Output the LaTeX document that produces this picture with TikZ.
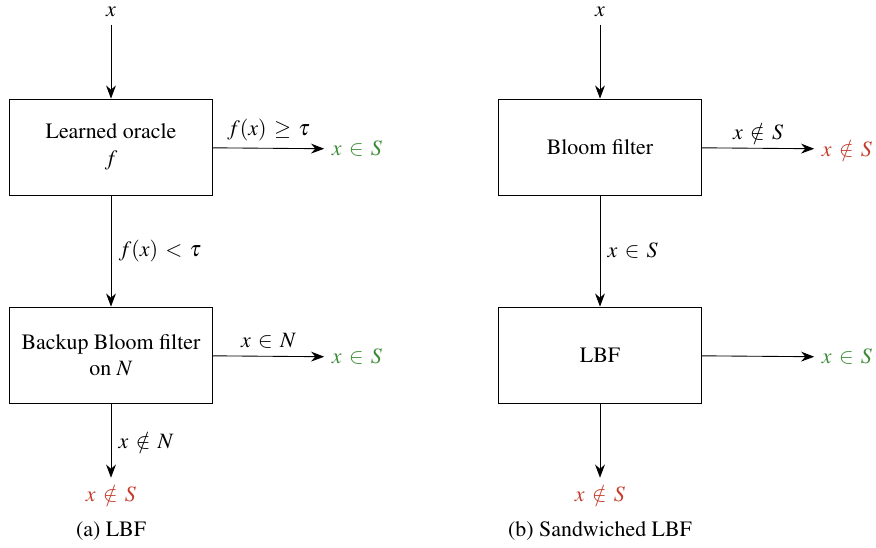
\documentclass[tikz,border=0pt]{standalone}
\usepackage{amsmath}
\usepackage[T1]{fontenc}
\usepackage{mathptmx}
\usepackage{tikz}
\usetikzlibrary{arrows.meta}
\usepackage{xcolor}
\definecolor{posgreen}{RGB}{58,138,52}
\definecolor{negred}{RGB}{196,58,42}
\thickmuskip=6mu plus 2mu

\begin{document}
\begin{tikzpicture}[x=0.4566pt, y=-0.4566pt,
    block/.style={draw, minimum width=92.7pt, minimum height=43.8pt, align=center, inner sep=2pt},
    flow/.style={-{Stealth[length=6pt, width=4.5pt]}},
    yes/.style={text=posgreen},
    no/.style={text=negred}]
    \useasboundingbox (0,0) rectangle (876,548);
    % LBF
    \node (inA) at (111,12) {$x$};
    \node[block] (oracle) at (111,147) {Learned oracle\\ $f$};
    \node[block] (backup) at (111,355) {Backup Bloom filter\\ on $N$};
    \node[yes] (posA1) at (357,149) {$x \in S$};
    \node[yes] (posA2) at (357,357) {$x \in S$};
    \node[no] (negA) at (111,494) {$x \notin S$};
    \draw[flow] (inA) -- (oracle);
    \draw[flow] (oracle) -- node[above] {$f(x) \geq \tau$} (posA1);
    \draw[flow] (oracle) -- node[right] {$f(x) < \tau$} (backup);
    \draw[flow] (backup) -- node[above] {$x \in N$} (posA2);
    \draw[flow] (backup) -- node[right] {$x \notin N$} (negA);
    \node (capA) at (111,531) {(a) LBF};
    % Sandwiched LBF
    \node (inB) at (600,12) {$x$};
    \node[block] (bloom) at (600,147) {Bloom filter};
    \node[block] (lbf) at (600,355) {LBF};
    \node[no] (negB1) at (847,149) {$x \notin S$};
    \node[yes] (posB) at (847,357) {$x \in S$};
    \node[no] (negB2) at (600,494) {$x \notin S$};
    \draw[flow] (inB) -- (bloom);
    \draw[flow] (bloom) -- node[above] {$x \notin S$} (negB1);
    \draw[flow] (bloom) -- node[right] {$x \in S$} (lbf);
    \draw[flow] (lbf) -- (posB);
    \draw[flow] (lbf) -- (negB2);
    \node (capB) at (600,531) {(b) Sandwiched LBF};
\end{tikzpicture}
\end{document}
